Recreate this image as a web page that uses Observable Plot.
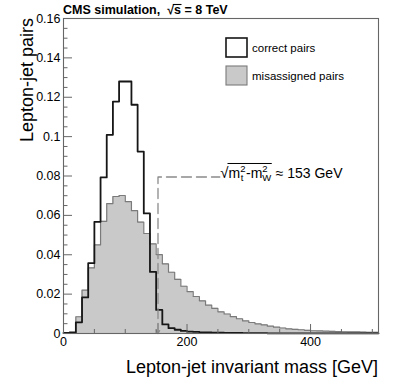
<!DOCTYPE html>
<html><head><meta charset="utf-8">
<script src="https://cdn.jsdelivr.net/npm/d3@7"></script>
<script src="https://cdn.jsdelivr.net/npm/@observablehq/plot@0.6"></script>
<style>
body{margin:0;background:#fff}
svg{font-family:"Liberation Sans",Arial,Helvetica,sans-serif}
</style>
</head><body><div id="chart"></div>
<script>
// bin edges in GeV
const binEdges = [0,10,20,30,40,50,60,70,80,90,100,110,120,130,140,150,160,170,180,190,200,210,220,230,240,250,260,270,280,290,300,310,320,330,340,350,360,370,380,390,400,410,420,430,440,450,460,470,480,490,500,510];
// correct pairs (normalized)
const correctPairs = [0.0003,0.0005,0.0057,0.0183,0.0357,0.0567,0.0793,0.1009,0.1178,0.1280,
  0.1280,0.1162,0.0924,0.0610,0.0313,0.0120,0.0046,0.0027,0.0019,0.0013,
  0.0010,0.0008,0.0006,0.0005,0.0004,0.0004,0.0003,0.0003,0.0003,0.0002,
  0.0002,0.0002,0.0002,0.0001,0.0001,0.0001,0.0001,0.0001,0.0001,0.0001,
  0.0001,0.0001,0.0001,0.0001,0.0001,0.0001,0.0001,0.0001,0.0001,0.0001,0.0001];
// misassigned pairs (normalized)
const misassignedPairs = [0,0,0.0085,0.0220,0.0333,0.0450,0.0570,0.0660,0.0696,0.0701,
  0.0670,0.0624,0.0566,0.0508,0.0455,0.0401,0.0354,0.0311,0.0275,0.0240,
  0.0213,0.0188,0.0166,0.0144,0.0128,0.0110,0.0099,0.0086,0.0075,0.0064,
  0.0056,0.0049,0.0044,0.0037,0.0032,0.0028,0.0024,0.0021,0.0019,0.0016,
  0.0014,0.0013,0.0012,0.0011,0.0010,0.0009,0.0008,0.0008,0.0007,0.0006,0.0006];
const seriesNames = ["correct pairs","misassigned pairs"];
const xTicks = [0,200,400];
const xTickLabels = ["0","200","400"];
const xMinorTicks = [50,100,150,250,300,350,450,500];
const yTicks = [0,0.02,0.04,0.06,0.08,0.1,0.12,0.14,0.16];
const yTickLabels = ["0","0.02","0.04","0.06","0.08","0.1","0.12","0.14","0.16"];
const yMinorTicks = [0.005,0.01,0.015,0.025,0.03,0.035,0.045,0.05,0.055,0.065,0.07,0.075,0.085,0.09,0.095,0.105,0.11,0.115,0.125,0.13,0.135,0.145,0.15,0.155];
const xDomain = [0,510];
const yDomain = [0,0.16];
// annotation: sqrt(mt^2 - mW^2) ~ 153 GeV
const markerMass = [153];
const markerLevel = [0.0795];
const markerEnd = [253];
const titleText = ["CMS simulation,  ", "√", "s", " = 8 TeV"];
const xTitle = "Lepton-jet invariant mass [GeV]";
const yTitle = "Lepton-jet pairs";

const bins = binEdges.slice(0,-1).map((lo,i)=>({lo, hi: binEdges[i+1], c: correctPairs[i], m: misassignedPairs[i]}));
const stepPts = key => bins.map(b=>({x:b.lo, y:b[key]})).concat([{x: binEdges[binEdges.length-1], y: bins[bins.length-1][key]}]);
const markerPath = [{x:markerMass[0], y:0},{x:markerMass[0], y:markerLevel[0]},{x:markerEnd[0], y:markerLevel[0]}];

const W = 399, H = 383, mL = 63, mR = 21, mT = 18, mB = 50;
const pw = W-mL-mR, ph = H-mT-mB;
const axisCol = "#666";

const chart = Plot.plot({
  width: W, height: H,
  marginLeft: mL, marginRight: mR, marginTop: mT, marginBottom: mB,
  style: {fontFamily: '"Liberation Sans",Arial,sans-serif', fontSize: "12.5px", color: "#000", background: "#fff", overflow: "visible"},
  x: {domain: xDomain},
  y: {domain: yDomain},
  marks: [
    Plot.areaY(stepPts("m"), {x: "x", y: "y", curve: "step-after", fill: "#c9c9c9"}),
    Plot.line(stepPts("m"), {x: "x", y: "y", curve: "step-after", stroke: "#7a7a7a", strokeWidth: 1.2}),
    Plot.line(stepPts("c"), {x: "x", y: "y", curve: "step-after", stroke: "#161616", strokeWidth: 1.8}),
    Plot.line(markerPath, {x: "x", y: "y", stroke: "#8a8a8a", strokeWidth: 1.3, strokeDasharray: "10,5"}),
    Plot.arrow([markerPath[0]], {x1: d=>d.x, y1: 0.005, x2: d=>d.x, y2: d=>d.y, stroke: "#8a8a8a", strokeWidth: 1.2, headLength: 7}),
    Plot.ruleX(xMinorTicks, {x: d=>d, insetTop: ph-4, stroke: axisCol}),
    Plot.ruleX(xTicks, {x: d=>d, insetTop: ph-9, stroke: axisCol}),
    Plot.ruleY(yMinorTicks, {y: d=>d, insetRight: pw-4.5, stroke: axisCol}),
    Plot.ruleY(yTicks, {y: d=>d, insetRight: pw-9, stroke: axisCol}),
    Plot.axisX(xTicks, {tickSize: 0, tickPadding: 4, tickFormat: d => xTickLabels[xTicks.indexOf(d)], label: null, fontSize: 12.5}),
    Plot.axisY(yTicks, {tickSize: 0, tickPadding: 3, tickFormat: d => yTickLabels[yTicks.indexOf(d)], label: null, fontSize: 12.5}),
    Plot.frame({stroke: axisCol, strokeWidth: 1.1})
  ]
});
document.getElementById("chart").appendChild(chart);

const svg = d3.select(chart);
const xs = chart.scale("x"), ys = chart.scale("y");
const g = svg.append("g").attr("fill", "#000").attr("text-anchor", "start")
  .attr("font-family", '"Liberation Sans",Arial,sans-serif');

// title
{
  const t = g.append("text").attr("x", mL).attr("y", 14).attr("font-size", 12.5).attr("font-weight", "bold")
    .attr("xml:space", "preserve").style("white-space", "pre");
  titleText.forEach(s => t.append("tspan").text(s));
  const node = t.node();
  const iS = titleText[0].length + titleText[1].length;
  const eR = node.getExtentOfChar(iS-1), eS = node.getExtentOfChar(iS);
  g.append("line").attr("x1", eR.x + eR.width - 1.2).attr("x2", eS.x + eS.width + 0.5)
    .attr("y1", eS.y + 1.5).attr("y2", eS.y + 1.5).attr("stroke", "#000").attr("stroke-width", 1.1);
}

// axis titles
g.append("text").attr("x", mL+pw).attr("y", 373).attr("text-anchor", "end").attr("font-size", 18).text(xTitle);
g.append("text").attr("transform", `translate(33,${mT}) rotate(-90)`).attr("text-anchor", "end").attr("font-size", 18).text(yTitle);

// legend
const legY = [38, 66];
const legFill = ["#fff", "#c9c9c9"], legStroke = ["#161616", "#7a7a7a"], legSW = [1.6, 1.1];
seriesNames.forEach((name, i) => {
  g.append("rect").attr("x", 226).attr("y", legY[i]).attr("width", 21).attr("height", 19)
    .attr("fill", legFill[i]).attr("stroke", legStroke[i]).attr("stroke-width", legSW[i]);
  g.append("text").attr("x", 252).attr("y", legY[i] + 13.5).attr("font-size", 11.5).text(name);
});

// annotation text
{
  const fs = 14, sfs = 9.5;
  const bx = xs.apply(markerEnd[0]) + 1, by = ys.apply(markerLevel[0]) + 1.5;
  const piece = (str, x, y, size) => {
    const t = g.append("text").attr("x", x).attr("y", y).attr("font-size", size)
      .attr("xml:space", "preserve").style("white-space", "pre").text(str);
    return t.node().getComputedTextLength();
  };
  let x = bx;
  const wr = piece("√", x, by, fs + 1);
  x += wr;
  const radStart = x;
  x += piece("m", x, by, fs);
  const w2 = piece("2", x, by - 6, sfs);
  const wt = piece("t", x + 0.5, by + 3.5, sfs);
  x += Math.max(w2, wt) + 0.5;
  x += piece("-", x, by, fs);
  x += piece("m", x, by, fs);
  const w2b = piece("2", x, by - 6, sfs);
  const ww = piece("W", x, by + 3.5, sfs);
  x += Math.max(w2b, ww) + 0.5;
  const radEnd = x;
  g.append("line").attr("x1", radStart - 1).attr("x2", radEnd).attr("y1", by - fs - 0.5).attr("y2", by - fs - 0.5)
    .attr("stroke", "#000").attr("stroke-width", 1);
  piece(" ≈ 153 GeV", x, by, fs);
}
</script>
</body></html>
